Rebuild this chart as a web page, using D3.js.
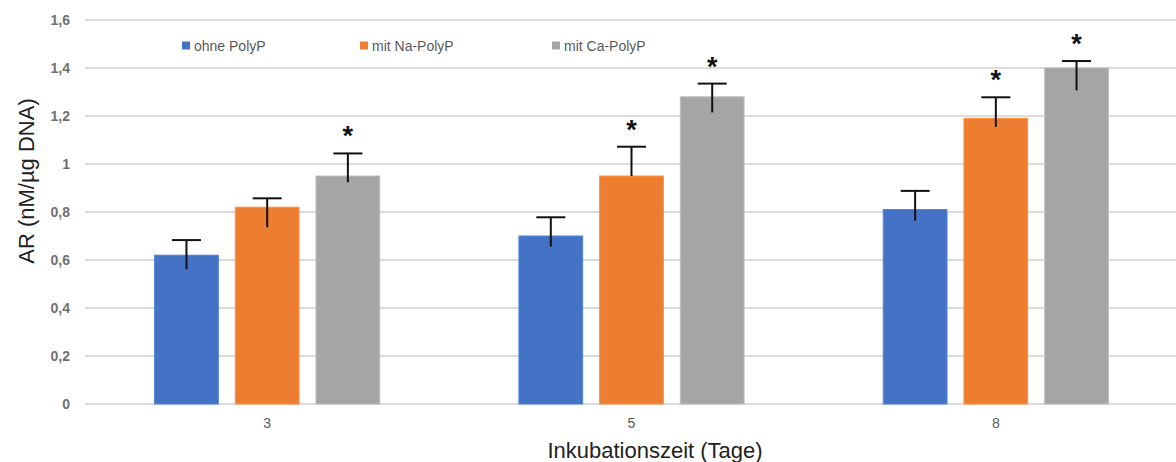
<!DOCTYPE html>
<html>
<head>
<meta charset="utf-8">
<script src="https://cdn.jsdelivr.net/npm/d3@7"></script>
<style>
  html, body { margin: 0; padding: 0; background: #fff; }
  svg { display: block; }
</style>
</head>
<body>
<svg id="chart" width="1176" height="462"></svg>
<script>
// ---- data ----
const categories = ["3", "5", "8"];
const seriesNames = ["ohne PolyP", "mit Na-PolyP", "mit Ca-PolyP"];
const seriesColors = ["#4472C4", "#ED7D31", "#A5A5A5"];
const ohneValues = [0.62, 0.70, 0.81];
const ohneErrHigh = [0.683, 0.778, 0.888];
const ohneErrLow = [0.561, 0.656, 0.764];
const naValues = [0.82, 0.95, 1.19];
const naErrHigh = [0.857, 1.072, 1.278];
const naErrLow = [0.736, 0.95, 1.155];
const caValues = [0.95, 1.28, 1.40];
const caErrHigh = [1.044, 1.335, 1.429];
const caErrLow = [0.924, 1.215, 1.307];
const ohneSig = [false, false, false];
const naSig = [false, true, true];
const caSig = [true, true, true];
const yTicks = [0, 0.2, 0.4, 0.6, 0.8, 1, 1.2, 1.4, 1.6];
const yTitle = "AR (nM/µg DNA)";
const xTitle = "Inkubationszeit (Tage)";

const series = [
  { name: seriesNames[0], color: seriesColors[0], values: ohneValues, hi: ohneErrHigh, lo: ohneErrLow, sig: ohneSig },
  { name: seriesNames[1], color: seriesColors[1], values: naValues, hi: naErrHigh, lo: naErrLow, sig: naSig },
  { name: seriesNames[2], color: seriesColors[2], values: caValues, hi: caErrHigh, lo: caErrLow, sig: caSig }
];

const svg = d3.select("#chart");
const font = "'Liberation Sans', Arial, sans-serif";

const x0 = d3.scaleBand().domain(categories).range([85, 1178]).paddingInner(0.382).paddingOuter(0.191);
const x1 = d3.scaleBand().domain(seriesNames).range([0, x0.bandwidth()]).paddingInner(0.21).paddingOuter(0);
const y = d3.scaleLinear().domain([0, 1.6]).range([404, 20]);

// gridlines
svg.append("g").selectAll("line").data(yTicks).join("line")
  .attr("x1", 85).attr("x2", 1176)
  .attr("y1", d => y(d)).attr("y2", d => y(d))
  .attr("stroke", "#d0d0d0").attr("stroke-width", 1.5);

// y axis labels
const yAxis = d3.axisLeft(y).tickValues(yTicks).tickSize(0).tickPadding(0)
  .tickFormat(d => d3.format(".1~f")(d).replace(".", ","));
const yg = svg.append("g").attr("transform", "translate(70,0)").call(yAxis);
yg.select(".domain").remove();
yg.selectAll("text").attr("font-family", font).attr("font-size", 14).attr("font-weight", "bold").attr("fill", "#707070");

// x axis labels
const xAxis = d3.axisBottom(x0).tickSize(0).tickPadding(0);
const xg = svg.append("g").attr("transform", "translate(0,418)").call(xAxis);
xg.select(".domain").remove();
xg.selectAll("text").attr("font-family", font).attr("font-size", 14).attr("fill", "#595959");

// bars
const groups = svg.append("g").selectAll("g").data(series).join("g");
groups.each(function(s) {
  const g = d3.select(this);
  const data = categories.map((c, i) => ({ c, v: s.values[i], hi: s.hi[i], lo: s.lo[i], sig: s.sig[i] }));
  const cx = d => x0(d.c) + x1(s.name) + x1.bandwidth() / 2;
  g.selectAll("rect").data(data).join("rect")
    .attr("x", d => x0(d.c) + x1(s.name))
    .attr("y", d => y(d.v))
    .attr("width", x1.bandwidth())
    .attr("height", d => y(0) - y(d.v))
    .attr("fill", s.color)
    .attr("stroke", d3.color(s.color).brighter(0.4))
    .attr("stroke-width", 1);
  // error bars
  g.selectAll("line.err").data(data).join("line").attr("class", "err")
    .attr("x1", cx).attr("x2", cx)
    .attr("y1", d => y(d.hi)).attr("y2", d => y(d.lo))
    .attr("stroke", "#111").attr("stroke-width", 2);
  g.selectAll("line.cap").data(data).join("line").attr("class", "cap")
    .attr("x1", d => cx(d) - 14.5).attr("x2", d => cx(d) + 14.5)
    .attr("y1", d => y(d.hi)).attr("y2", d => y(d.hi))
    .attr("stroke", "#111").attr("stroke-width", 2);
  // significance stars
  g.selectAll("text.sig").data(data.filter(d => d.sig)).join("text").attr("class", "sig")
    .attr("x", cx).attr("y", d => y(d.hi) - 8)
    .attr("text-anchor", "middle")
    .attr("font-family", font).attr("font-size", 27).attr("font-weight", "bold")
    .attr("fill", "#111").text("*");
});

// legend
const legendX = [182, 360, 552];
const lg = svg.append("g").selectAll("g").data(series).join("g")
  .attr("transform", (d, i) => `translate(${legendX[i]},46)`);
lg.append("rect").attr("x", 0).attr("y", -4.5).attr("width", 8).attr("height", 8).attr("fill", d => d.color);
lg.append("text").attr("x", 12).attr("y", 0).attr("dy", "0.35em")
  .attr("font-family", font).attr("font-size", 14).attr("fill", "#595959")
  .text(d => d.name);

// axis titles
svg.append("text")
  .attr("transform", "translate(34,181) rotate(-90)")
  .attr("text-anchor", "middle")
  .attr("font-family", font).attr("font-size", 22).attr("fill", "#222")
  .text(yTitle);
svg.append("text")
  .attr("x", 655).attr("y", 458)
  .attr("text-anchor", "middle")
  .attr("font-family", font).attr("font-size", 22).attr("fill", "#222")
  .text(xTitle);
</script>
</body>
</html>
